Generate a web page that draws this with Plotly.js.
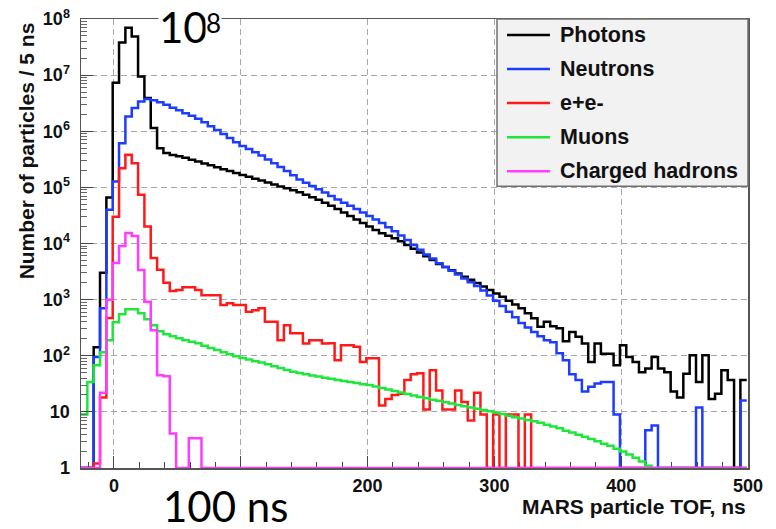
<!DOCTYPE html>
<html>
<head>
<meta charset="utf-8">
<script src="https://cdn.plot.ly/plotly-3.0.1.min.js"></script>
<style>
  html, body { margin: 0; padding: 0; background: #ffffff; }
  #chart { width: 776px; height: 529px; }
</style>
</head>
<body>
<div id="chart"></div>
<script>
// MARS particle time-of-flight spectra: counts per 5 ns bin, first bin starts at -26 ns.
// A value of 0 marks an empty bin; it is drawn on the floor of the log axis.
const binStart = -26;
const binWidth = 5;

const photons = [
  0, 0, 142, 3000, 6.6e4, 7.3e6, 3.8e7, 7.0e7, 4.9e7, 9.5e6,
  3.9e6, 1.14e6, 5.0e5, 4.1e5, 3.76e5, 3.58e5, 3.36e5, 3.1e5, 2.88e5, 2.67e5,
  2.47e5, 2.28e5, 2.11e5, 1.95e5, 1.80e5, 1.67e5, 1.54e5, 1.42e5, 1.32e5, 1.22e5,
  1.13e5, 1.04e5, 9.6e4, 8.9e4, 8.2e4, 7.4e4, 6.7e4, 6.0e4, 5.3e4, 4.7e4,
  4.1e4, 3.55e4, 3.1e4, 2.67e4, 2.31e4, 2.0e4, 1.74e4, 1.53e4, 1.38e4, 1.24e4,
  1.10e4, 9400, 8100, 6900, 5900, 5060, 4300, 3800, 3330, 2920,
  2560, 2250, 1970, 1720, 1490, 1290, 1120, 955, 818, 705,
  574, 468, 327, 402, 336, 310, 181, 266, 217, 165,
  77, 165, 109, 109, 68, 154, 95, 77, 51, 59,
  95, 59, 51, 23, 18, 48, 102, 34, 102, 17,
  21, 55, 37, 0, 37
];

const neutrons = [
  0, 0, 95, 700, 4.0e4, 1.27e5, 6.1e5, 1.83e6, 2.6e6, 3.4e6,
  3.76e6, 3.58e6, 3.3e6, 2.97e6, 2.63e6, 2.36e6, 2.1e6, 1.88e6, 1.67e6, 1.44e6,
  1.23e6, 1.05e6, 8.95e5, 7.57e5, 6.39e5, 5.47e5, 4.81e5, 4.22e5, 3.68e5, 3.15e5,
  2.69e5, 2.3e5, 1.95e5, 1.64e5, 1.38e5, 1.21e5, 1.06e5, 9.3e4, 8.1e4, 7.05e4,
  6.1e4, 5.3e4, 4.7e4, 4.1e4, 3.58e4, 3.1e4, 2.69e4, 2.32e4, 1.95e4, 1.65e4,
  1.39e4, 1.15e4, 9400, 7700, 6400, 5400, 4470, 3800, 3260, 2790,
  2380, 2040, 1740, 1450, 1180, 955, 772, 611, 483, 382,
  318, 264, 223, 189, 174, 111, 83, 47, 37, 23,
  28, 32, 34, 34, 9, 0, 0, 0, 0, 4.7,
  5.7, 0, 0, 0, 0, 0, 0, 12, 0, 0,
  0, 0, 0, 0, 16
];

const electrons = [
  0, 0, 1.2, 18, 470, 3.0e4, 2.2e5, 3.8e5, 2.7e5, 7.4e4,
  2.0e4, 5500, 3400, 2000, 1420, 1480, 1670, 1670, 1480, 1200,
  1200, 1200, 800, 866, 800, 800, 606, 649, 705, 402,
  402, 189, 350, 252, 252, 165, 189, 189, 165, 167,
  83, 154, 154, 144, 77, 90, 90, 13, 17, 20,
  21, 37, 47, 49, 11, 55, 24, 11, 11, 24,
  15, 7, 22, 9, 0, 9, 0, 9, 9, 0,
  9, 0, 0, 0, 0, 0, 0, 0, 0, 0,
  0, 0, 0, 0, 0, 0, 0, 0, 0, 0,
  0, 0, 0, 0, 0, 0, 0, 0, 0, 0,
  0, 0, 0, 0, 0
];

const muons = [
  9, 34, 68, 115, 189, 396, 551, 677, 677, 574,
  448, 350, 274, 242, 223, 205, 189, 178, 167, 151,
  137, 126, 116, 106, 98, 91, 85.5, 79.8, 75.6, 70.5,
  64.9, 60.3, 56, 52, 49.1, 46.7, 44.5, 42.5, 40.6, 38.8,
  37.1, 35.6, 34.1, 32.7, 31.2, 30, 28.3, 26.6, 25, 23.5,
  22.2, 20.9, 19.6, 18.5, 17.5, 16.4, 15.8, 14.9, 14.1, 13.3,
  12.6, 12, 11.4, 10.8, 10.3, 9.7, 9.2, 8.5, 8.0, 7.6,
  7.2, 6.8, 6.4, 5.9, 5.5, 5.1, 4.6, 4.3, 3.9, 3.6,
  3.3, 3.0, 2.7, 2.5, 2.2, 1.97, 1.74, 1.52, 1.3, 1.1,
  0, 0, 0, 0, 0, 0, 0, 0, 0, 0,
  0, 0, 0, 0, 0
];

const chargedHadrons = [
  0, 0, 0, 22, 1000, 4500, 9000, 1.54e4, 1.36e4, 3360,
  914, 285, 45, 43, 4.1, 0, 0, 3.4, 3.4, 0,
  0, 0, 0, 0, 0, 0, 0, 0, 0, 0,
  0, 0, 0, 0, 0, 0, 0, 0, 0, 0,
  0, 0, 0, 0, 0, 0, 0, 0, 0, 0,
  0, 0, 0, 0, 0, 0, 0, 0, 0, 0,
  0, 0, 0, 0, 0, 0, 0, 0, 0, 0,
  0, 0, 0, 0, 0, 0, 0, 0, 0, 0,
  0, 0, 0, 0, 0, 0, 0, 0, 0, 0,
  0, 0, 0, 0, 0, 0, 0, 0, 0, 0,
  0, 0, 0, 0, 0
];

const seriesNames = ['Photons', 'Neutrons', 'e+e-', 'Muons', 'Charged hadrons'];
const seriesValues = [photons, neutrons, electrons, muons, chargedHadrons];
const seriesColors = ['#000000', '#1e3cff', '#ff1a1a', '#1ee63c', '#ff3cff'];

const xTickVals = [0, 100, 200, 300, 400, 500];
const xTickText = ['0', '100', '200', '300', '400', '500'];
const yTickVals = [1, 1e1, 1e2, 1e3, 1e4, 1e5, 1e6, 1e7, 1e8];
const yTickText = ['1', '10', '10<sup>2</sup>', '10<sup>3</sup>', '10<sup>4</sup>',
                   '10<sup>5</sup>', '10<sup>6</sup>', '10<sup>7</sup>', '10<sup>8</sup>'];

const yFloor = 1;   // bottom of the log axis

// minor ticks at 2..9 within every decade of the log axis
const yMinorVals = [];
for (let d = 0; d < 8; d++) {
  for (let m = 2; m <= 9; m++) yMinorVals.push(m * Math.pow(10, d));
}

// histogram outline: x = bin edges, step drawn with 'hv'
function outline(values) {
  const x = [], y = [];
  values.forEach((v, i) => {
    x.push(binStart + i * binWidth);
    y.push(v > 0 ? v : yFloor);
  });
  x.push(binStart + values.length * binWidth);
  y.push(y[y.length - 1]);
  return { x, y };
}

const traces = seriesValues.map((vals, k) => {
  const o = outline(vals);
  return {
    type: 'scatter',
    mode: 'lines',
    x: o.x,
    y: o.y,
    name: seriesNames[k],
    line: { shape: 'hv', color: seriesColors[k], width: 2.5 },
    hoverinfo: 'skip',
    showlegend: false
  };
});

const boldSans = 'Liberation Sans, Arial, Helvetica, sans-serif';
const slideFont = 'Lato, Carlito, Calibri, sans-serif';

// Legend box in the upper right corner of the frame (paper coordinates)
const legendBox = { x0: 0.6237, x1: 1.0, y0: 0.6276, y1: 1.0 };
const legendSample = { x0: 0.6387, x1: 0.7031, textX: 0.7151 };
const legendRowTop = 0.9643;
const legendRowStep = 0.0758;

const shapes = [{
  type: 'rect', xref: 'paper', yref: 'paper', layer: 'above',
  x0: legendBox.x0, x1: legendBox.x1, y0: legendBox.y0, y1: legendBox.y1,
  fillcolor: '#f2f2f2', line: { color: '#707070', width: 1.5 }
}];
const legendLabels = [];
seriesNames.forEach((name, k) => {
  const yRow = legendRowTop - k * legendRowStep;
  shapes.push({
    type: 'line', xref: 'paper', yref: 'paper', layer: 'above',
    x0: legendSample.x0, x1: legendSample.x1, y0: yRow, y1: yRow,
    line: { color: seriesColors[k], width: 2.5 }
  });
  legendLabels.push({
    text: name, xref: 'paper', yref: 'paper',
    x: legendSample.textX, xanchor: 'left', y: yRow, yanchor: 'middle',
    showarrow: false,
    font: { family: boldSans, size: 21.5, weight: 'bold', color: '#111111' }
  });
});

const layout = {
  width: 776,
  height: 529,
  margin: { l: 81, r: 28, t: 19, b: 61, pad: 0 },
  paper_bgcolor: '#ffffff',
  plot_bgcolor: '#ffffff',
  font: { family: boldSans, color: '#000000' },
  showlegend: false,
  xaxis: {
    range: [-26, 500],
    tickmode: 'array', tickvals: xTickVals, ticktext: xTickText,
    ticks: 'inside', ticklen: 12, tickwidth: 1, tickcolor: '#444444',
    minor: { tickmode: 'linear', tick0: 0, dtick: 20, ticks: 'inside', ticklen: 6, tickcolor: '#444444' },
    showgrid: true, gridcolor: '#a8a8a8', gridwidth: 1, griddash: '6px,4px',
    showline: true, mirror: true, linecolor: '#555555', linewidth: 1.5,
    zeroline: false,
    tickfont: { family: boldSans, size: 18, weight: 'bold', color: '#111111' },
    ticklabelstandoff: 1,
    layer: 'below traces'
  },
  yaxis: {
    type: 'log',
    range: [0, 8],
    tickmode: 'array', tickvals: yTickVals, ticktext: yTickText,
    ticks: 'inside', ticklen: 12, tickwidth: 1, tickcolor: '#444444',
    minor: { tickmode: 'array', tickvals: yMinorVals, ticks: 'inside', ticklen: 6, tickcolor: '#666666' },
    showgrid: true, gridcolor: '#a8a8a8', gridwidth: 1, griddash: '6px,4px',
    showline: true, mirror: true, linecolor: '#555555', linewidth: 1.5,
    zeroline: false,
    tickfont: { family: boldSans, size: 18, weight: 'bold', color: '#111111' },
    ticklabelstandoff: 6
  },
  shapes: shapes,
  annotations: legendLabels.concat([
    {
      text: 'Number of particles / 5 ns',
      xref: 'paper', yref: 'paper',
      x: -0.0825, xanchor: 'center',
      y: 0.998, yanchor: 'top',
      textangle: -90, showarrow: false,
      font: { family: boldSans, size: 21, weight: 'bold', color: '#111111' }
    },
    {
      text: 'MARS particle TOF, ns',
      xref: 'paper', yref: 'paper',
      x: 1, xanchor: 'right',
      y: -0.0852, yanchor: 'middle',
      showarrow: false,
      font: { family: boldSans, size: 21, weight: 'bold', color: '#111111' }
    },
    {
      text: '10',
      xref: 'paper', yref: 'paper',
      x: 0.1154, xanchor: 'left',
      y: 0.982, yanchor: 'middle',
      showarrow: false, bgcolor: '#ffffff', borderpad: 0,
      font: { family: slideFont, size: 42, color: '#000000' }
    },
    {
      text: '8',
      xref: 'paper', yref: 'paper',
      x: 0.198, xanchor: 'center',
      y: 0.99, yanchor: 'middle',
      showarrow: false, bgcolor: '#ffffff', borderpad: 0,
      font: { family: slideFont, size: 26, color: '#000000' }
    },
    {
      text: '100 ns',
      xref: 'paper', yref: 'paper',
      x: 0.117, xanchor: 'left',
      y: -0.0836, yanchor: 'middle',
      showarrow: false, bgcolor: '#ffffff', borderpad: 3,
      font: { family: slideFont, size: 42, color: '#000000' }
    }
  ])
};

Plotly.newPlot('chart', traces, layout, { displayModeBar: false, staticPlot: true });
</script>
</body>
</html>
